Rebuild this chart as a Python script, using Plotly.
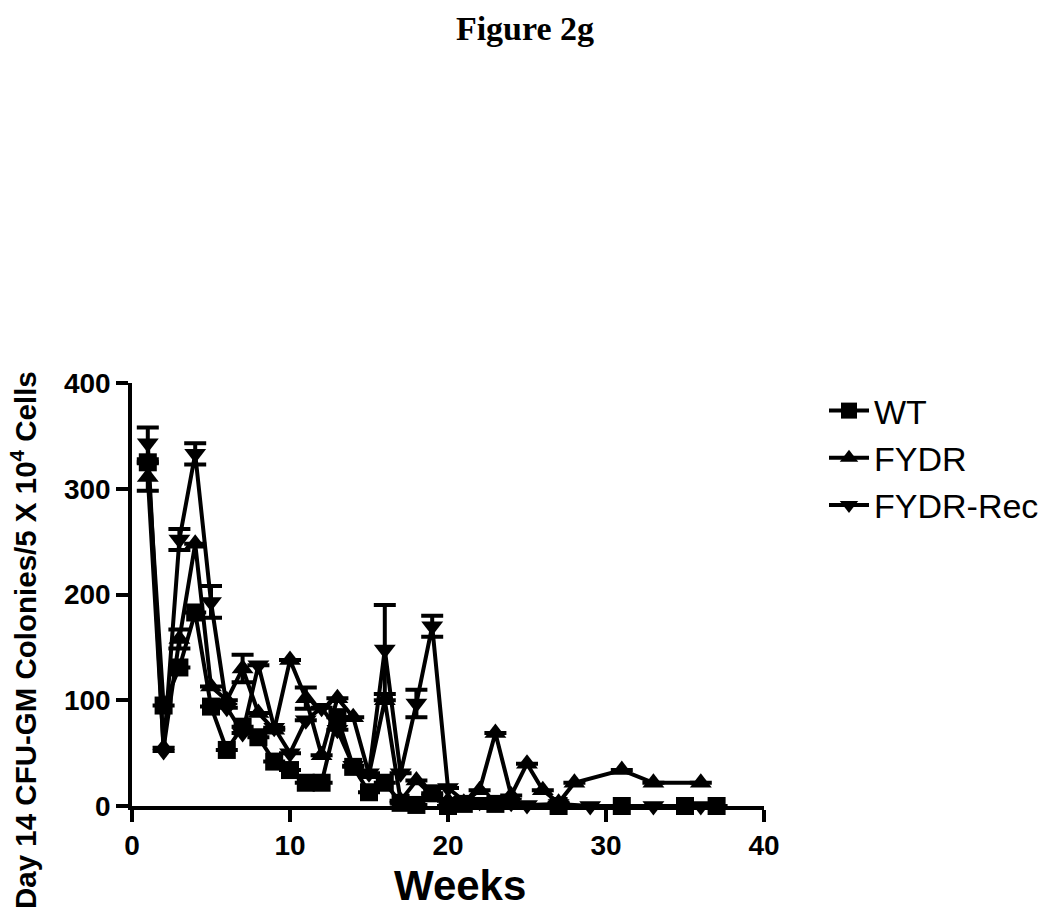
import plotly.graph_objects as go

# ---- data ----
wt_weeks = [1, 2, 3, 4, 5, 6, 7, 8, 9, 10, 11, 12, 13, 14, 15, 16, 17, 18, 19, 20, 21, 23, 27, 31, 35, 37]
wt_vals = [325, 95, 131, 183, 94, 53, 75, 65, 42, 34, 22, 22, 84, 37, 13, 22, 3, 1, 12, 0, 2, 2, 0, 0, 0, 0]
wt_err = [0] * len(wt_weeks)

fydr_weeks = [1, 2, 3, 4, 5, 6, 7, 8, 9, 10, 11, 12, 13, 14, 15, 16, 17, 18, 19, 20, 21, 22, 23, 24, 25, 26, 27, 28, 31, 33, 36]
fydr_vals = [311, 55, 158, 248, 113, 100, 130, 88, 72, 138, 102, 48, 102, 84, 30, 100, 5, 24, 10, 5, 3, 15, 69, 10, 40, 15, 3, 22, 34, 22, 22]
fydr_err = [13, 0, 9, 0, 0, 0, 13, 0, 0, 0, 10, 0, 0, 0, 0, 0, 0, 0, 0, 0, 0, 0, 0, 0, 0, 0, 0, 0, 0, 0, 0]

rec_weeks = [1, 2, 3, 4, 5, 6, 7, 8, 9, 10, 11, 12, 13, 14, 15, 16, 17, 18, 19, 20, 21, 22, 23, 24, 25, 27, 29, 33, 36]
rec_vals = [343, 52, 252, 333, 193, 93, 69, 133, 74, 50, 81, 93, 72, 38, 31, 148, 31, 97, 170, 17, 5, 4, 3, 3, 1, 2, 0, 0, 0]
rec_err = [15, 0, 10, 10, 15, 0, 0, 0, 0, 0, 0, 0, 0, 0, 0, 42, 0, 13, 10, 0, 0, 0, 0, 0, 0, 0, 0, 0, 0]

x_ticks = [0, 10, 20, 30, 40]
y_ticks = [0, 100, 200, 300, 400]

W, H = 1050, 915
OFF = 8  # page body margin
# plot area in screen pixels
PX0, PX1, PY0, PY1 = 132, 764, 383, 806
L, T = PX0 - OFF, PY0 - OFF
R = W - (PX1 - OFF)
B = H - (PY1 - OFF)
pw, ph = PX1 - PX0, PY1 - PY0

def px_x(sx):
    return (sx - PX0) / pw

def px_y(sy):
    return (PY1 - sy) / ph

FONT = "Arial, Liberation Sans, sans-serif"

fig = go.Figure()

def add_series(name, xs, ys, errs, symbol, size):
    fig.add_trace(go.Scatter(
        x=xs, y=ys, name=name, mode="lines+markers",
        line=dict(color="black", width=4),
        marker=dict(symbol=symbol, size=size, color="black", line=dict(width=0)),
        error_y=dict(type="data", array=errs, visible=True, color="black",
                     thickness=4, width=11),
        cliponaxis=False,
    ))

add_series("WT", wt_weeks, wt_vals, wt_err, "square", 18)
add_series("FYDR", fydr_weeks, fydr_vals, fydr_err, "triangle-up", 19)
add_series("FYDR-Rec", rec_weeks, rec_vals, rec_err, "triangle-down", 19)

fig.update_layout(
    width=W, height=H,
    margin=dict(l=L, r=R, t=T, b=B),
    paper_bgcolor="white", plot_bgcolor="white",
    font=dict(family=FONT, color="black"),
    title=dict(text="<b>Figure 2g</b>", x=(525 - OFF) / W, xref="container", xanchor="center",
               y=1 - (28 - OFF) / H, yref="container", yanchor="middle",
               font=dict(family="Times New Roman, Liberation Serif, serif", size=34, color="black")),
    showlegend=True,
    legend=dict(x=px_x(824), y=px_y(382), xanchor="left", yanchor="top",
                font=dict(family=FONT, size=34, color="black"),
                bgcolor="rgba(0,0,0,0)", itemwidth=40),
    xaxis=dict(range=[0, 40], tickvals=x_ticks, ticktext=[f"<b>{v}</b>" for v in x_ticks],
               showgrid=False, zeroline=False, showline=True, linecolor="black", linewidth=3.5,
               ticks="outside", ticklen=12, tickwidth=3.5, tickcolor="black",
               tickfont=dict(family=FONT, size=28, color="black")),
    yaxis=dict(range=[0, 400], tickvals=y_ticks, ticktext=[f"<b>{v}</b>" for v in y_ticks],
               showgrid=False, zeroline=False, showline=True, linecolor="black", linewidth=3.5,
               ticks="outside", ticklen=12, tickwidth=3.5, tickcolor="black",
               tickfont=dict(family=FONT, size=28, color="black")),
)

fig.add_annotation(
    text="<b>Weeks</b>",
    xref="paper", yref="paper", x=px_x(460), y=px_y(885),
    xanchor="center", yanchor="middle", showarrow=False,
    font=dict(family=FONT, size=42, color="black"),
)

fig.add_annotation(
    text="<b>Day 14 CFU-GM Colonies/5 X 10<sup>4</sup> Cells</b>",
    xref="paper", yref="paper", x=px_x(23), y=px_y(640),
    xanchor="center", yanchor="middle", textangle=-90, showarrow=False,
    font=dict(family=FONT, size=29.5, color="black"),
)

fig.write_html("out.html")
